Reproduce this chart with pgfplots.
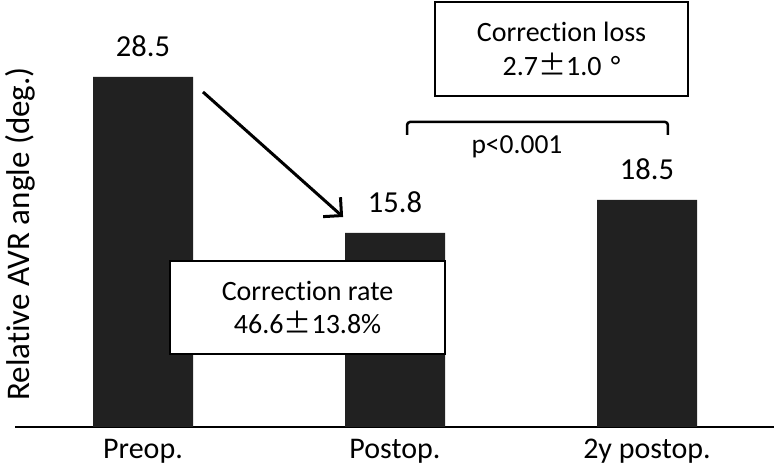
\documentclass[border=0pt]{standalone}
\usepackage{fontspec}
\setmainfont{Carlito}[Ligatures={NoCommon}]
\newfontfamily\cjk{Noto Sans CJK JP}
\usepackage{pgfplots}
\pgfplotsset{compat=1.18}
\usetikzlibrary{arrows.meta}
\definecolor{barc}{RGB}{33,33,33}
\begin{document}
\begin{tikzpicture}
\useasboundingbox (-15pt,-41pt) rectangle (759pt,427pt);
\begin{axis}[
  scale only axis, width=759pt, height=427pt,
  xmin=-0.508, xmax=2.504, ymin=0, ymax=34.77,
  axis x line*=bottom, axis y line*=left,
  y axis line style={draw=none},
  x axis line style={line width=2pt},
  ytick=\empty,
  xtick={0,1,2}, xticklabels={Preop., Postop., 2y postop.},
  xtick style={draw=none},
  xticklabel style={anchor=base, yshift=-27pt, font=\fontsize{30}{34}\selectfont},
  ylabel={Relative AVR angle (deg.)},
  ylabel style={at={(rel axis cs:0.0066,0.452)}, anchor=center, font=\fontsize{33}{38}\selectfont},
  clip=false,
  ybar, bar width=100pt,
  nodes near coords,
  nodes near coords style={anchor=base, yshift=20.5pt, font=\fontsize{30.5}{36}\selectfont, /pgf/number format/fixed, /pgf/number format/precision=1, /pgf/number format/fixed zerofill, /pgf/number format/assume math mode=true},
]
\addplot[fill=barc, draw=none] coordinates {(0,28.5) (1,15.8) (2,18.5)};
\draw[line width=3pt, -{Straight Barb[length=13pt,width=26pt,line width=3pt]}] (axis cs:0.238,27.28) -- (axis cs:0.794,17.10);
\node[draw, line width=2pt, fill=white, minimum width=275pt, minimum height=93pt, inner sep=0pt, align=center, font=\fontsize{28}{33}\selectfont] at (axis cs:0.653,9.73) {Correction rate\\46.6{\cjk ±}13.8\%};
\node[draw, line width=2pt, fill=white, minimum width=253pt, minimum height=94pt, inner sep=0pt, align=center, font=\fontsize{28}{34}\selectfont] at (axis cs:1.661,30.78) {Correction loss\\2.7{\cjk ±}1.0\,\,°};
\draw[line width=2.5pt, rounded corners=3pt] (axis cs:1.048,23.78) -- (axis cs:1.048,24.84) -- (axis cs:2.083,24.84) -- (axis cs:2.083,23.78);
\node[anchor=base, inner sep=0pt, font=\fontsize{27.5}{32}\selectfont] at (axis cs:1.484,22.31) {p<0.001};
\end{axis}
\end{tikzpicture}
\end{document}
